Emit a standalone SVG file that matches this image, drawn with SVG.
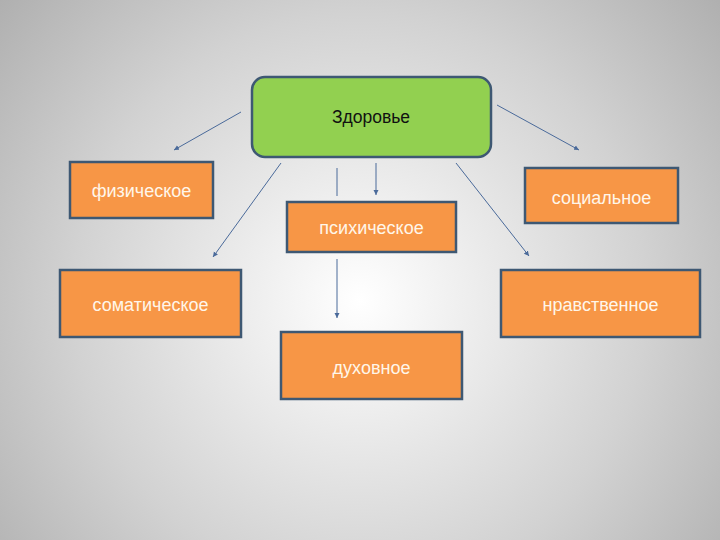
<svg xmlns="http://www.w3.org/2000/svg" width="720" height="540" viewBox="0 0 720 540">
<defs>
<radialGradient id="bg" cx="360" cy="300" r="520" gradientUnits="userSpaceOnUse">
<stop offset="0" stop-color="#ffffff"/>
<stop offset="0.55" stop-color="#d2d2d2"/>
<stop offset="1" stop-color="#a6a6a6"/>
</radialGradient>
<marker id="ah" markerWidth="6" markerHeight="6" refX="5" refY="3" orient="auto" markerUnits="userSpaceOnUse">
<path d="M0,0.5 L5,3 L0,5.5 Z" fill="#4a6a9a"/>
</marker>
<style>
.box{fill:#f79646;stroke:#3e5873;stroke-width:2.5}
.lbl{font-family:"Liberation Sans",Arial,sans-serif;font-size:18px;fill:#fff6ea;text-anchor:middle}
.con{stroke:#4a6a9a;stroke-width:1;fill:none}
</style>
</defs>
<rect width="720" height="540" fill="url(#bg)"/>
<g id="connectors">
<line class="con" x1="241" y1="112" x2="174" y2="150" marker-end="url(#ah)"/>
<line class="con" x1="497" y1="105" x2="579" y2="150" marker-end="url(#ah)"/>
<line class="con" x1="281" y1="163" x2="213" y2="257" marker-end="url(#ah)"/>
<line class="con" x1="456" y1="163" x2="529" y2="256" marker-end="url(#ah)"/>
<line class="con" x1="337" y1="168" x2="337" y2="196"/>
<line class="con" x1="376" y1="163" x2="376" y2="195" marker-end="url(#ah)"/>
<line class="con" x1="337" y1="259" x2="337" y2="318" marker-end="url(#ah)"/>
</g>
<g id="zdorovie">
<rect x="252" y="77" width="239" height="80" rx="13" fill="#92d050" stroke="#3e5873" stroke-width="2.5"/>
<text x="371" y="123" font-family="Liberation Sans, Arial, sans-serif" font-size="17.5" fill="#111" text-anchor="middle">Здоровье</text>
</g>
<g id="fizicheskoe">
<rect class="box" x="70" y="162" width="143" height="56"/>
<text class="lbl" x="141.5" y="197">физическое</text>
</g>
<g id="psikhicheskoe">
<rect class="box" x="287" y="202" width="169" height="50"/>
<text class="lbl" x="371.5" y="234">психическое</text>
</g>
<g id="sotsialnoe">
<rect class="box" x="525" y="168" width="153" height="55"/>
<text class="lbl" x="601.5" y="204">социальное</text>
</g>
<g id="somaticheskoe">
<rect class="box" x="60" y="270" width="181" height="67"/>
<text class="lbl" x="150.5" y="311">соматическое</text>
</g>
<g id="nravstvennoe">
<rect class="box" x="501" y="270" width="199" height="67"/>
<text class="lbl" x="600.5" y="311">нравственное</text>
</g>
<g id="dukhovnoe">
<rect class="box" x="281" y="332" width="181" height="67"/>
<text class="lbl" x="371.5" y="374">духовное</text>
</g>
</svg>
